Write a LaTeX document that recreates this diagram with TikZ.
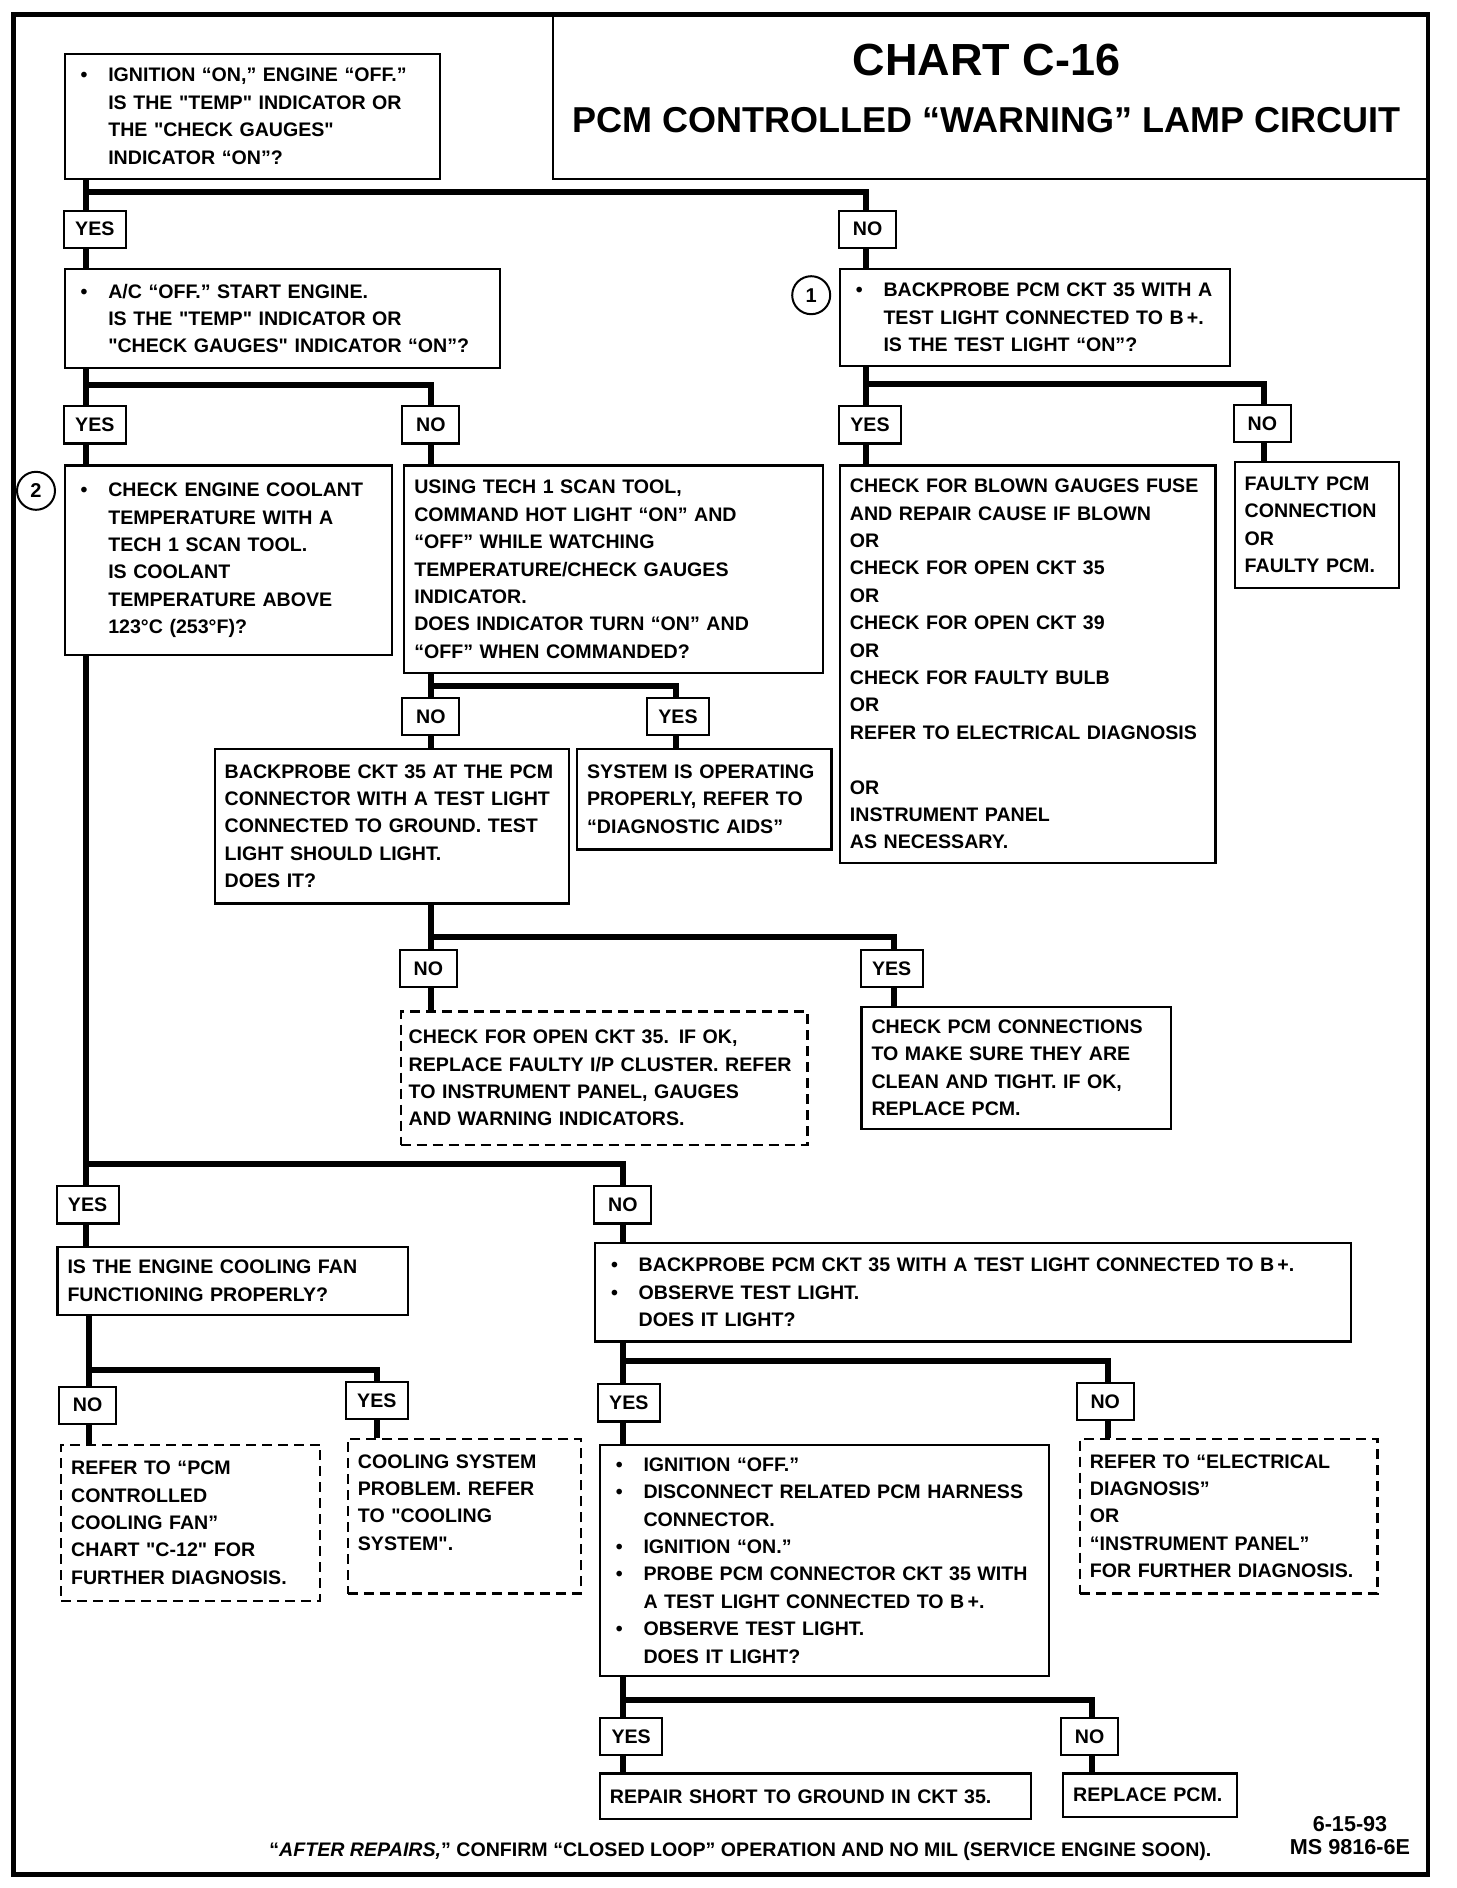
\documentclass[tikz,border=0pt]{standalone}
\usepackage{fontspec}
\setmainfont{Liberation Sans}[Ligatures=TeXOff]
\newcommand\bpt{\makebox[13.8pt][l]{\textbullet}}
\newcommand\bsp{\hspace*{13.8pt}}
\begin{document}
\begin{tikzpicture}[x=0.6pt,y=-0.6pt,
  box/.style={draw,line width=1.1pt,anchor=north west,align=left,inner xsep=5pt,inner ysep=3pt,font=\bfseries\fontsize{9.8}{13.7}\selectfont},
  qbox/.style={box,inner xsep=8pt},
  dbox/.style={box,dash pattern=on 5pt off 3pt},
  lbl/.style={draw,fill=white,line width=1.1pt,minimum height=18.6pt,inner xsep=2pt,font=\bfseries\fontsize{9.8}{12}\selectfont},
  yeslbl/.style={lbl,minimum width=31pt},
  nolbl/.style={lbl,minimum width=28.5pt},
  conn/.style={line width=3pt},
  num/.style={draw,circle,line width=1pt,minimum size=19pt,inner sep=0pt,font=\bfseries\fontsize{10}{12}\selectfont}]
  \useasboundingbox (0,0) rectangle (1213.33,1573.33);
  \node[draw,line width=1.1pt,anchor=north west,minimum width=438pt,minimum height=81.6pt] (titlebox) at (460,12) {};
  \draw[line width=2.4pt] (11,12) rectangle (1190,1562);
  \node[font=\bfseries\fontsize{22.5}{26}\selectfont] (chart) at (822,50) {CHART C-16};
  \node[font=\bfseries\fontsize{18}{22}\selectfont] (lamp) at (822,100) {PCM CONTROLLED “WARNING” LAMP CIRCUIT};

  \node[qbox,text width=171.8pt,minimum height=62.4pt] (ignition) at (53,44) {\bpt IGNITION “ON,” ENGINE “OFF.”\\\bsp IS THE "TEMP" INDICATOR OR\\\bsp THE "CHECK GAUGES"\\\bsp INDICATOR “ON”?};
  \node[qbox,text width=201.8pt,minimum height=49.8pt] (acoff) at (53,223) {\bpt A/C “OFF.” START ENGINE.\\\bsp IS THE "TEMP" INDICATOR OR\\\bsp "CHECK GAUGES" INDICATOR “ON”?};
  \node[qbox,text width=179pt,minimum height=48.6pt] (probeb) at (699,223) {\bpt BACKPROBE PCM CKT 35 WITH A\\\bsp TEST LIGHT CONNECTED TO B\,+.\\\bsp IS THE TEST LIGHT “ON”?};
  \node[num] (one) at (676,246) {1};
  \node[qbox,text width=147.8pt,minimum height=94.8pt] (coolant) at (53,387) {\bpt CHECK ENGINE COOLANT\\\bsp TEMPERATURE WITH A\\\bsp TECH 1 SCAN TOOL.\\\bsp IS COOLANT\\\bsp TEMPERATURE ABOVE\\\bsp 123°C (253°F)?};
  \node[num] (two) at (30,409) {2};
  \node[box,text width=199.4pt,minimum height=103.8pt] (scantool) at (336,387) {USING TECH 1 SCAN TOOL,\\COMMAND HOT LIGHT “ON” AND\\“OFF” WHILE WATCHING\\TEMPERATURE/CHECK GAUGES\\INDICATOR.\\DOES INDICATOR TURN “ON” AND\\“OFF” WHEN COMMANDED?};
  \node[box,text width=177.8pt,minimum height=198.6pt] (blown) at (699,387) {CHECK FOR BLOWN GAUGES FUSE\\AND REPAIR CAUSE IF BLOWN\\OR\\CHECK FOR OPEN CKT 35\\OR\\CHECK FOR OPEN CKT 39\\OR\\CHECK FOR FAULTY BULB\\OR\\REFER TO ELECTRICAL DIAGNOSIS\\[13.7pt]OR\\INSTRUMENT PANEL\\AS NECESSARY.};
  \node[box,text width=72.2pt,minimum height=63pt] (faulty) at (1028,384) {FAULTY PCM\\CONNECTION\\OR\\FAULTY PCM.};
  \node[box,text width=167pt,minimum height=77.4pt] (ground) at (178,623) {BACKPROBE CKT 35 AT THE PCM\\CONNECTOR WITH A TEST LIGHT\\CONNECTED TO GROUND. TEST\\LIGHT SHOULD LIGHT.\\DOES IT?};
  \node[box,text width=117.2pt,minimum height=50.4pt] (sysok) at (480,623) {SYSTEM IS OPERATING\\PROPERLY, REFER TO\\“DIAGNOSTIC AIDS”};
  \node[dbox,inner xsep=4pt,text width=195.4pt,minimum height=66.6pt] (openckt) at (333,842) {CHECK FOR OPEN CKT 35. IF OK,\\REPLACE FAULTY I/P CLUSTER. REFER\\TO INSTRUMENT PANEL, GAUGES\\AND WARNING INDICATORS.};
  \node[box,text width=144.8pt,minimum height=61.2pt] (pcmconn) at (717,838) {CHECK PCM CONNECTIONS\\TO MAKE SURE THEY ARE\\CLEAN AND TIGHT. IF OK,\\REPLACE PCM.};
  \node[box,text width=165.2pt,minimum height=34.2pt] (fan) at (47,1038) {IS THE ENGINE COOLING FAN\\FUNCTIONING PROPERLY?};
  \node[qbox,text width=362pt,minimum height=49.2pt] (probe2) at (495,1035) {\bpt BACKPROBE PCM CKT 35 WITH A TEST LIGHT CONNECTED TO B\,+.\\\bpt OBSERVE TEST LIGHT.\\\bsp DOES IT LIGHT?};
  \node[dbox,text width=119.6pt,minimum height=78pt] (fanchart) at (50,1203) {REFER TO “PCM\\CONTROLLED\\COOLING FAN”\\CHART "C-12" FOR\\FURTHER DIAGNOSIS.};
  \node[dbox,text width=106.4pt,minimum height=77.4pt] (coolsys) at (289,1198) {COOLING SYSTEM\\PROBLEM. REFER\\TO "COOLING\\SYSTEM".\\\mbox{}};
  \node[qbox,text width=208.4pt,minimum height=115.8pt] (harness) at (499,1203) {\bpt IGNITION “OFF.”\\\bpt DISCONNECT RELATED PCM HARNESS\\\bsp CONNECTOR.\\\bpt IGNITION “ON.”\\\bpt PROBE PCM CONNECTOR CKT 35 WITH\\\bsp A TEST LIGHT CONNECTED TO B\,+.\\\bpt OBSERVE TEST LIGHT.\\\bsp DOES IT LIGHT?};
  \node[dbox,text width=138.8pt,minimum height=77.4pt] (elecdiag) at (899,1198) {REFER TO “ELECTRICAL\\DIAGNOSIS”\\OR\\“INSTRUMENT PANEL”\\FOR FURTHER DIAGNOSIS.};
  \node[box,text width=205.4pt,minimum height=22.8pt] (repair) at (499,1477) {REPAIR SHORT TO GROUND IN CKT 35.};
  \node[box,text width=77pt,minimum height=21.6pt] (replace) at (885,1477) {REPLACE PCM.};

  \coordinate (s1) at (72,160);
  \coordinate (s1r) at (722,160);
  \draw[conn] (ignition.south -| s1) -- (acoff.north -| s1);
  \draw[conn] (s1) -- (s1r) -- (probeb.north -| s1r);
  \coordinate (s2) at (72,321);
  \coordinate (s2r) at (359,321);
  \draw[conn] (acoff.south -| s2) -- (coolant.north -| s2);
  \draw[conn] (s2) -- (s2r) -- (scantool.north -| s2r);
  \coordinate (s3) at (722,320);
  \coordinate (s3r) at (1053,320);
  \draw[conn] (probeb.south -| s3) -- (blown.north -| s3);
  \draw[conn] (s3) -- (s3r) -- (faulty.north -| s3r);
  \coordinate (s4) at (359,572);
  \coordinate (s4r) at (563,572);
  \draw[conn] (scantool.south -| s4) -- (ground.north -| s4);
  \draw[conn] (s4) -- (s4r) -- (sysok.north -| s4r);
  \coordinate (s5) at (359,781);
  \coordinate (s5r) at (745,781);
  \draw[conn] (ground.south -| s5) -- (openckt.north -| s5);
  \draw[conn] (s5) -- (s5r) -- (pcmconn.north -| s5r);
  \coordinate (s6) at (72,970);
  \coordinate (s6r) at (519,970);
  \draw[conn] (coolant.south -| s6) -- (fan.north -| s6);
  \draw[conn] (s6) -- (s6r) -- (probe2.north -| s6r);
  \coordinate (s7) at (74,1142);
  \coordinate (s7r) at (314,1142);
  \draw[conn] (fan.south -| s7) -- (fanchart.north -| s7);
  \draw[conn] (s7) -- (s7r) -- (coolsys.north -| s7r);
  \coordinate (s8) at (519,1134);
  \coordinate (s8r) at (923,1134);
  \draw[conn] (probe2.south -| s8) -- (harness.north -| s8);
  \draw[conn] (s8) -- (s8r) -- (elecdiag.north -| s8r);
  \coordinate (s9) at (519,1417);
  \coordinate (s9r) at (910,1417);
  \draw[conn] (harness.south -| s9) -- (repair.north -| s9);
  \draw[conn] (s9) -- (s9r) -- (replace.north -| s9r);

  \node[yeslbl] (yes1) at (79,191) {YES};
  \node[nolbl] (no1) at (723,191) {NO};
  \node[yeslbl] (yes2) at (79,354) {YES};
  \node[nolbl] (no2) at (359,354) {NO};
  \node[yeslbl] (yes3) at (725,354) {YES};
  \node[nolbl] (no3) at (1052,353) {NO};
  \node[nolbl] (no4) at (359,597) {NO};
  \node[yeslbl] (yes4) at (565,597) {YES};
  \node[nolbl] (no5) at (357,807) {NO};
  \node[yeslbl] (yes5) at (743,807) {YES};
  \node[yeslbl] (yes6) at (73,1004) {YES};
  \node[nolbl] (no6) at (519,1004) {NO};
  \node[nolbl] (no7) at (73,1171) {NO};
  \node[yeslbl] (yes7) at (314,1167) {YES};
  \node[yeslbl] (yes8) at (524,1169) {YES};
  \node[nolbl] (no8) at (921,1168) {NO};
  \node[yeslbl] (yes9) at (526,1447) {YES};
  \node[nolbl] (no9) at (908,1447) {NO};

  \node[font=\bfseries\fontsize{9.8}{12}\selectfont] (after) at (617,1543) {“\textit{AFTER REPAIRS,}” CONFIRM “CLOSED LOOP” OPERATION AND NO MIL (SERVICE ENGINE SOON).};
  \node[align=center,font=\bfseries\fontsize{10.8}{11.5}\selectfont] (msno) at (1125,1530) {6-15-93\\MS 9816-6E};
\end{tikzpicture}
\end{document}
